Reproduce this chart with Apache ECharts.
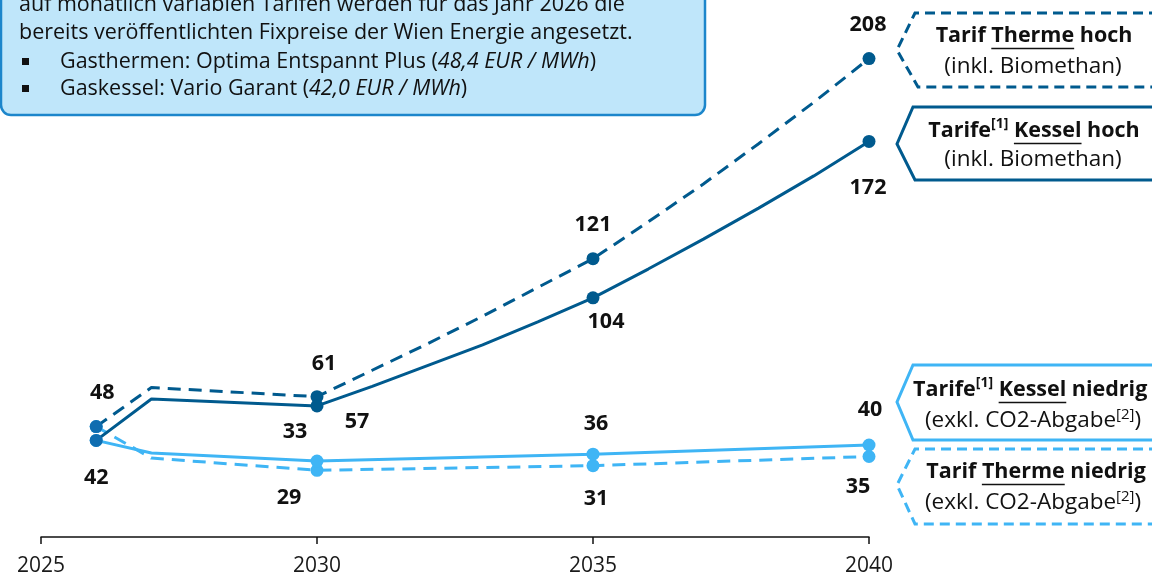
<!DOCTYPE html>
<html>
<head>
<meta charset="utf-8">
<script src="https://cdn.jsdelivr.net/npm/echarts@6/dist/echarts.min.js"></script>
<style>
  html, body { margin: 0; padding: 0; background: #ffffff; }
  #chart { width: 1152px; height: 577px; }
</style>
</head>
<body>
<div id="chart"></div>
<script>
// Gas tariff projections (EUR / MWh), 2026 to 2040
const tickYears = [2025, 2030, 2035, 2040];
const markedYears = [2026, 2030, 2035, 2040];

const thermeHoch = [[2026, 48], [2027, 65], [2030, 61], [2031, 72.5], [2032, 84], [2033, 96], [2034, 108.5],
  [2035, 121], [2036, 137], [2037, 153.5], [2038, 171], [2039, 189], [2040, 208]];
const kesselHoch = [[2026, 42], [2027, 60], [2030, 57], [2031, 65.5], [2032, 74.5], [2033, 83.5], [2034, 93.5],
  [2035, 104], [2036, 116.5], [2037, 129.5], [2038, 143], [2039, 157], [2040, 172]];
const kesselNiedrig = [[2026, 42], [2027, 36.5], [2030, 33], [2035, 36], [2040, 40]];
const thermeNiedrig = [[2026, 48], [2027, 34.3], [2030, 29], [2035, 31], [2040, 35]];

const DARK = '#005a8e';
const LIGHT = '#3fb5f5';
const START_DOT = '#0f6db0';
const FONT = '"Open Sans", "Noto Sans", sans-serif';

// value label placement around each marker (pixel offsets from the dot centre)
const labelOffsets = {
  'Therme hoch':    { 2026: [6, -34], 2030: [7, -33], 2035: [0, -34], 2040: [-1, -34] },
  'Kessel hoch':    { 2026: [0, 37], 2030: [40, 16], 2035: [13, 24], 2040: [-1, 46] },
  'Kessel niedrig': { 2030: [-22, -29], 2035: [3, -30], 2040: [1, -35] },
  'Therme niedrig': { 2030: [-28, 28], 2035: [3, 33], 2040: [-11, 30] }
};

function buildSeries(name, points, color, dashed, z) {
  return {
    type: 'line',
    name: name,
    z: z,
    symbolSize: 13,
    showAllSymbol: true,
    lineStyle: { color: color, width: 3, type: dashed ? [13, 8] : 'solid', cap: 'butt' },
    itemStyle: { color: color },
    emphasis: { disabled: true },
    label: {
      position: 'inside',
      fontSize: 21.5,
      fontWeight: 'bold',
      fontFamily: FONT,
      color: '#111111',
      formatter: p => String(p.value[1])
    },
    data: points.map(([yr, v]) => {
      const marked = markedYears.includes(yr);
      const off = labelOffsets[name][yr];
      const item = {
        value: [yr, v],
        symbol: marked ? 'circle' : 'none',
        label: off ? { show: true, offset: off } : { show: false }
      };
      if (yr === 2026 && color === DARK) item.itemStyle = { color: START_DOT };
      return item;
    })
  };
}

// text runs laid out with canvas metrics so mixed styles sit on one line
const measureCtx = document.createElement('canvas').getContext('2d');
function fontOf(r, size) {
  return (r.i ? 'italic ' : '') + (r.b ? 'bold ' : '') + size + 'px ' + FONT;
}
function textLine(out, runs, x, y, size, align, boldSize) {
  const sizeOf = r => {
    const base = r.b && boldSize ? boldSize : size;
    return r.sup ? Math.round(base * 0.65) : base;
  };
  const widths = runs.map(r => {
    measureCtx.font = fontOf(r, sizeOf(r));
    return measureCtx.measureText(r.t).width;
  });
  const total = widths.reduce((a, b) => a + b, 0);
  let cx = align === 'center' ? x - total / 2 : x;
  runs.forEach((r, i) => {
    const fs = sizeOf(r);
    out.push({
      type: 'text',
      silent: true,
      x: cx,
      y: r.sup ? y - size * 0.3 : y,
      z: 100,
      style: {
        text: r.t,
        fontSize: fs,
        fontFamily: FONT,
        fontWeight: r.b ? 'bold' : 'normal',
        fontStyle: r.i ? 'italic' : 'normal',
        fill: '#111111',
        align: 'left', textAlign: 'left',
        verticalAlign: 'middle', textVerticalAlign: 'middle'
      }
    });
    if (r.u) {
      out.push({
        type: 'line', silent: true, z: 100,
        shape: { x1: cx, y1: y + size * 0.55, x2: cx + widths[i], y2: y + size * 0.55 },
        style: { stroke: '#111111', lineWidth: 1.5 }
      });
    }
    cx += widths[i];
  });
}

function callout(out, top, tipY, bottom, cornerTop, cornerBottom, color, dashed) {
  out.push({
    type: 'polyline', silent: true, z: 90,
    shape: { points: [[1175, top], [cornerTop, top], [897, tipY], [cornerBottom, bottom], [1175, bottom]] },
    style: { stroke: color, lineWidth: 3, fill: null, lineDash: dashed ? [10, 6] : null }
  });
}

const graphics = [];

// note box, top left
graphics.push({
  type: 'rect', silent: true, z: 80,
  shape: { x: 1, y: -30, width: 704, height: 145, r: 10 },
  style: { fill: '#bfe6fa', stroke: '#1c86cb', lineWidth: 2.5 }
});
const BOX_SIZE = 21.5;
textLine(graphics, [{ t: 'auf monatlich variablen Tarifen werden für das Jahr 2026 die' }], 19, 5, BOX_SIZE, 'left');
textLine(graphics, [{ t: 'bereits veröffentlichten Fixpreise der Wien Energie angesetzt.' }], 19, 33, BOX_SIZE, 'left');
textLine(graphics, [{ t: 'Gasthermen: Optima Entspannt Plus (' }, { t: '48,4 EUR / MWh', i: true }, { t: ')' }], 60, 62, BOX_SIZE, 'left');
textLine(graphics, [{ t: 'Gaskessel: Vario Garant (' }, { t: '42,0 EUR / MWh', i: true }, { t: ')' }], 60, 89, BOX_SIZE, 'left');
[62, 89].forEach(yy => graphics.push({
  type: 'rect', silent: true, z: 100,
  shape: { x: 22, y: yy - 4, width: 7, height: 7 },
  style: { fill: '#111111' }
}));

// series name tags on the right
callout(graphics, 13, 50, 87, 915, 918, DARK, true);
callout(graphics, 107, 144, 180, 913, 915, DARK, false);
callout(graphics, 365, 402, 440, 913, 913, LIGHT, false);
callout(graphics, 449, 485, 524, 915, 915, LIGHT, true);

const TAG_SIZE = 22.5;
const TAG_BOLD = 21.5;
textLine(graphics, [{ t: 'Tarif ', b: true }, { t: 'Therme', b: true, u: true }, { t: ' hoch', b: true }], 1034, 36, TAG_SIZE, 'center', TAG_BOLD);
textLine(graphics, [{ t: '(inkl. Biomethan)' }], 1033, 67, TAG_SIZE, 'center');
textLine(graphics, [{ t: 'Tarife', b: true }, { t: '[1]', b: true, sup: true }, { t: ' ', b: true }, { t: 'Kessel', b: true, u: true }, { t: ' hoch', b: true }], 1034, 131, TAG_SIZE, 'center', TAG_BOLD);
textLine(graphics, [{ t: '(inkl. Biomethan)' }], 1033, 160, TAG_SIZE, 'center');
textLine(graphics, [{ t: 'Tarife', b: true }, { t: '[1]', b: true, sup: true }, { t: ' ', b: true }, { t: 'Kessel', b: true, u: true }, { t: ' niedrig', b: true }], 913, 390, TAG_SIZE, 'left', TAG_BOLD);
textLine(graphics, [{ t: '(exkl. CO2-Abgabe' }, { t: '[2]', sup: true }, { t: ')' }], 1033, 421, TAG_SIZE, 'center');
textLine(graphics, [{ t: 'Tarif ', b: true }, { t: 'Therme', b: true, u: true }, { t: ' niedrig', b: true }], 1036, 472, TAG_SIZE, 'center', TAG_BOLD);
textLine(graphics, [{ t: '(exkl. CO2-Abgabe' }, { t: '[2]', sup: true }, { t: ')' }], 1033, 503, TAG_SIZE, 'center');

const chart = echarts.init(document.getElementById('chart'), null, { renderer: 'canvas' });
chart.setOption({
  animation: false,
  backgroundColor: '#ffffff',
  grid: { left: 41, right: 283, top: 31, bottom: 40, containLabel: false, outerBoundsMode: 'none' },
  xAxis: {
    type: 'value',
    min: 2025,
    max: 2040,
    interval: 5,
    axisLine: { lineStyle: { color: '#111111', width: 1.5 } },
    axisTick: { length: 7, lineStyle: { color: '#111111', width: 1.5 } },
    axisLabel: {
      fontSize: 21, fontFamily: FONT, color: '#1a1a1a', margin: 19,
      formatter: v => (tickYears.includes(v) ? String(v) : '')
    },
    splitLine: { show: false }
  },
  yAxis: { type: 'value', min: 0, max: 220, show: false, splitLine: { show: false } },
  series: [
    buildSeries('Therme niedrig', thermeNiedrig, LIGHT, true, 2),
    buildSeries('Kessel niedrig', kesselNiedrig, LIGHT, false, 2),
    buildSeries('Therme hoch', thermeHoch, DARK, true, 3),
    buildSeries('Kessel hoch', kesselHoch, DARK, false, 3)
  ],
  graphic: graphics
});
</script>
</body>
</html>
